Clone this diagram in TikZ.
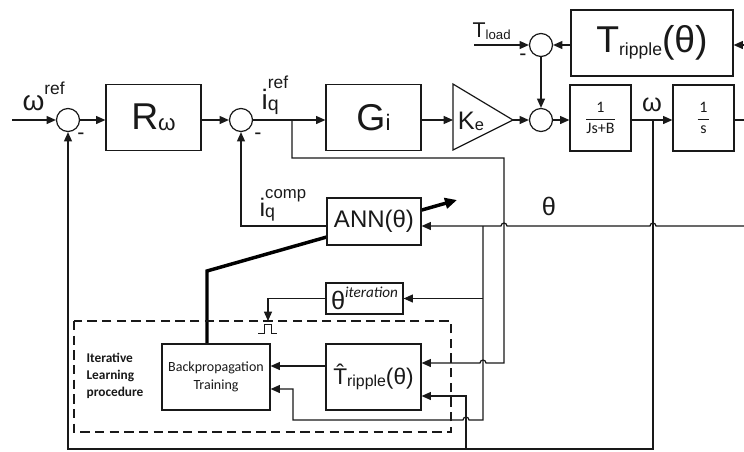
\documentclass[tikz,border=0pt]{standalone}
\usepackage{amsmath}
\usepackage{fontspec}
\setmainfont{Liberation Sans}
\newfontfamily\carlito{Carlito}
\usetikzlibrary{arrows.meta,positioning,backgrounds}

\makeatletter
\newcommand{\lowtxt}[3][0.1]{\raisebox{-#1em}{\fontsize{\fpeval{#2*\f@size}}{0}\selectfont #3}}
\newcommand{\hightxt}[3][0.6]{\raisebox{#1em}{\fontsize{\fpeval{#2*\f@size}}{0}\selectfont #3}}
\makeatother

\begin{document}
\begin{tikzpicture}[x=0.75pt, y=-0.75pt, line width=0.9pt, color=black!90,
    box/.style={draw, fill=white, inner sep=0pt, align=center},
    wbox/.style={box, minimum width=71.25pt, minimum height=49.5pt},
    nbox/.style={box, minimum width=45.75pt, minimum height=49.5pt},
    sumc/.style={draw, fill=white, circle, minimum size=17.25pt, inner sep=0pt},
    arr/.style={-{Triangle[length=7pt, width=6pt]}},
    big/.style={font=\fontsize{28}{30}\selectfont},
    frac/.style={font=\carlito\fontsize{12}{14}\selectfont},
    small/.style={font=\carlito\fontsize{10.5}{13}\selectfont},
    lbl/.style={anchor=base west, inner sep=0pt},
    minus/.style={font=\fontsize{16}{16}\selectfont, inner sep=0pt}
  ]
    \useasboundingbox (0,0) rectangle (744,451);

    \node[sumc] (s1) at (68,120) {};
    \node[wbox, big] (Rw) at (153.5,117.5) {R\lowtxt[0.02]{0.6}{ω}};
    \node[sumc] (s2) at (241,120) {};
    \node[wbox, big] (Gi) at (373.5,117.5) {G\lowtxt[0.02]{0.6}{i}};
    \coordinate (kein) at (453,120);
    \coordinate (ketip) at (513,120);
    \draw[fill=white] (453,84) -- (ketip) -- (453,150) -- cycle;
    \node[font=\fontsize{19}{19}\selectfont, inner sep=0pt] (Ke) at (471,121) {K\lowtxt[0.05]{0.65}{e}};
    \node[sumc] (s3) at (541,120) {};
    \node[sumc] (s4) at (541,45) {};
    \node[nbox, frac] (Jsb) at (600.5,118) {$\dfrac{\text{1}}{\text{Js+B}}$};
    \node[nbox, frac] (intg) at (703.5,118) {$\dfrac{\text{1}}{\,\text{s}\,}$};
    \node[box, minimum width=121.5pt, minimum height=49.5pt, big] (Trip) at (652,43) {T\lowtxt[0.08]{0.47}{ripple}(θ)};
    \node[box, minimum width=70.5pt, minimum height=35.25pt, font=\fontsize{18}{20}\selectfont] (ANN) at (374,221.5) {ANN(θ)};
    \node[box, minimum width=57.75pt, minimum height=23.25pt, font=\fontsize{19}{20}\selectfont] (thit) at (364.5,298.5) {θ\hightxt[0.5]{0.6}{\carlito\itshape iteration}};
    \node[box, minimum width=81pt, minimum height=49.5pt, small] (Bp) at (216,377) {Backpropagation\\Training};
    \node[wbox, font=\fontsize{17}{19}\selectfont] (Th) at (373.5,377) {\^{T}\lowtxt[0.1]{0.7}{ripple}(θ)};
    \node[anchor=west, align=left, inner sep=0pt, font=\carlito\bfseries\fontsize{10}{13}\selectfont] (lilp) at (86,376) {Iterative\\Learning\\procedure};

    \node[lbl, font=\fontsize{21}{21}\selectfont] (lwref) at (22,110) {ω\hightxt[0.55]{0.62}{ref}};
    \node[lbl, font=\fontsize{21}{21}\selectfont] (liref) at (261,109) {i\rlap{\lowtxt[0.05]{0.7}{q}}\hightxt[0.75]{0.62}{ref}};
    \node[lbl, font=\fontsize{19}{19}\selectfont] (licomp) at (259,216) {i\rlap{\lowtxt[0.05]{0.7}{q}}\hightxt[0.7]{0.66}{comp}};
    \node[lbl, font=\fontsize{16}{16}\selectfont] (ltl) at (472,37) {T\lowtxt[0.1]{0.62}{load}};
    \node[font=\fontsize{19}{19}\selectfont, inner sep=0pt] (lth) at (549,206) {θ};
    \node[font=\fontsize{19}{19}\selectfont, inner sep=0pt] (lw) at (652,105) {ω};
    \node[minus] (m1) at (81,136) {-};
    \node[minus] (m2) at (258,136) {-};
    \node[minus] (m4) at (523,57) {-};

    \coordinate (in) at (12,120);
    \coordinate (out) at (744,120);
    \coordinate (bq) at (292,120);
    \coordinate (bw) at (653,120);
    \coordinate (tl) at (474,45);
    \coordinate (tr) at (744,45);
    \coordinate (th) at (744,226);
    \coordinate (jt) at (483,226);
    \coordinate (jw) at (466,449);
    \coordinate (trig) at (268,321);

    \draw[arr] (in) -- (s1);
    \draw[arr] (s1) -- (s1 -| Rw.west);
    \draw[arr] (Rw.east |- s1) -- (s2);
    \draw[arr] (s2) -- (s2 -| Gi.west);
    \draw[arr] (Gi.east |- s2) -- (kein);
    \draw[arr] (ketip) -- (s3);
    \draw[arr] (s3) -- (s3 -| Jsb.west);
    \draw[arr] (Jsb.east |- s3) -- (s3 -| intg.west);
    \draw (intg.east |- s3) -- (out);
    \draw[arr] (tl) -- (s4);
    \draw[arr] (tr) -- (tr -| Trip.east);
    \draw[arr] (Trip.west |- s4) -- (s4);
    \draw[arr] (s4) -- (s3);

    \draw[arr] (th) -- (656,226) arc[start angle=0, end angle=-180, radius=3]
      -- (507,226) arc[start angle=0, end angle=-180, radius=3] -- (ANN.east |- th);
    \draw[arr] (ANN.west |- th) -| (s2);
    \draw[arr] (bw) -- (bw |- jw) -| (s1);
    \draw[arr] (bq) |- (504,158) -- (504,363) -- (486,363) arc[start angle=0, end angle=-180, radius=3]
      -- (Th.east |- 0,363);
    \draw[arr] (jt) -- (483,420) -- (469,420) arc[start angle=0, end angle=-180, radius=3]
      -- (293,420) -- (293,389) -- (Bp.east |- 0,389);
    \draw[arr] (jt |- thit) -- (thit);
    \draw[arr] (jw) |- (Th.east |- 0,396);
    \draw[arr] (Th.west |- 0,366) -- (Bp.east |- 0,366);
    \draw[arr] (thit) -| (trig);
    \draw[line width=0.6pt] (258,333) -- (264,333) -- (264,324) -- (271,324) -- (271,333) -- (277,333);
    \draw[dash pattern=on 7pt off 4pt] (74,321) rectangle (451,432);

    \begin{scope}[on background layer]
      \draw[line width=2.6pt, black, -{Triangle[length=9pt, width=8pt]}] (207,0 |- Bp.north) -- (207,271) -- (457,200);
    \end{scope}
\end{tikzpicture}
\end{document}
